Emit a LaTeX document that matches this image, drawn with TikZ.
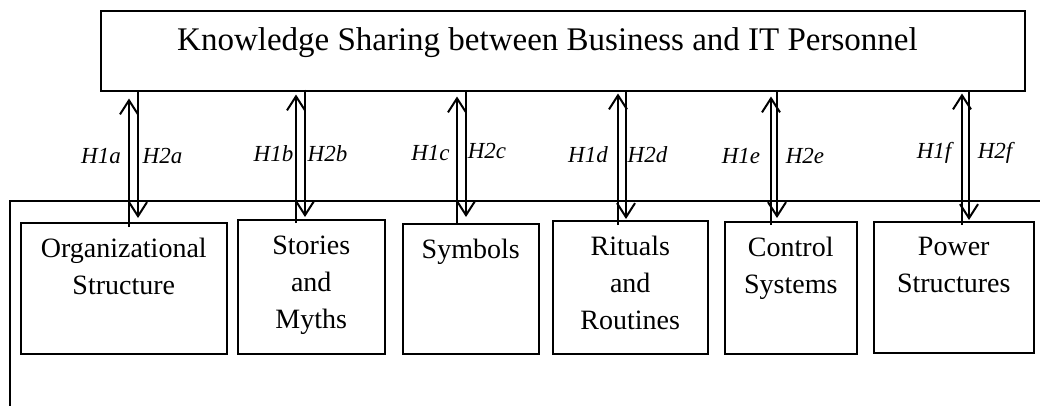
\documentclass[tikz,border=0pt]{standalone}
\usepackage{fontspec}
\setmainfont{Liberation Serif}
\usetikzlibrary{arrows.meta,calc}

\tikzset{
  frameline/.style={line width=1.3pt},
  titlebox/.style={draw,line width=1.5pt,rectangle,inner sep=0pt,anchor=north west},
  factorbox/.style={draw,line width=1.5pt,rectangle,inner sep=0pt,anchor=north west},
  factortext/.style={inner sep=0pt,anchor=north,align=center,font=\fontsize{28}{37}\selectfont},
  hyplabel/.style={inner sep=0pt,anchor=base,font=\fontsize{23}{26}\selectfont\itshape},
  hyp/.style={line width=2pt,-{Straight Barb[length=14pt,width=18pt]}}
}

\begin{document}
\begin{tikzpicture}[x=1pt,y=-1pt]
\useasboundingbox (0,0) rectangle (1040,405);

% outer frame of the culture factors (open to the right and bottom)
\draw[frameline] (1045,201) -- (10,201) -- (10,410);

% knowledge sharing box
\node[titlebox,minimum width=924pt,minimum height=80pt] (ks) at (100,10) {};
\node[inner sep=0pt,anchor=base west,font=\fontsize{33}{38}\selectfont] (kst) at (177,50)
  {Knowledge Sharing between Business and IT Personnel};

% cultural web factors
\node[factorbox,minimum width=206pt,minimum height=131pt] (os) at (20,222) {};
\node[factorbox,minimum width=147pt,minimum height=134pt] (sm) at (237,219) {};
\node[factorbox,minimum width=136pt,minimum height=130pt] (sy) at (402,223) {};
\node[factorbox,minimum width=155pt,minimum height=133pt] (rr) at (552,220) {};
\node[factorbox,minimum width=132pt,minimum height=132pt] (cs) at (724,221) {};
\node[factorbox,minimum width=160pt,minimum height=131pt] (ps) at (873,221) {};

\node[factortext] (ost) at ($(os.north)+(0,16)$) {Organizational\\Structure};
\node[factortext] (smt) at ($(sm.north)+(0,17)$) {Stories\\and\\Myths};
\node[factortext] (syt) at ($(sy.north)+(0,16)$) {Symbols};
\node[factortext] (rrt) at ($(rr.north)+(0,16)$) {Rituals\\and\\Routines};
\node[factortext] (cst) at ($(cs.north)+(0,16)$) {Control\\Systems};
\node[factortext] (pst) at ($(ps.north)+(0,16)$) {Power\\Structures};

% hypothesised links: H1 upwards, H2 downwards
\draw[hyp] ($(os.north -| 129,0)+(0,5)$) -- ($(ks.south -| 129,0)+(0,7)$);
\draw[hyp] ($(ks.south -| 138,0)+(0,-1)$) -- ($(os.north -| 138,0)+(0,-4)$);
\draw[hyp] ($(sm.north -| 296,0)+(0,4)$) -- ($(ks.south -| 296,0)+(0,3)$);
\draw[hyp] ($(ks.south -| 305,0)+(0,-2)$) -- ($(sm.north -| 305,0)+(0,-2)$);
\draw[hyp] ($(sy.north -| 457,0)+(0,1)$) -- ($(ks.south -| 457,0)+(0,5)$);
\draw[hyp] ($(ks.south -| 466,0)+(0,-1)$) -- ($(sy.north -| 466,0)+(0,-6)$);
\draw[hyp] ($(rr.north -| 618,0)+(0,5)$) -- ($(ks.south -| 618,0)+(0,2)$);
\draw[hyp] ($(ks.south -| 626,0)+(0,-1)$) -- ($(rr.north -| 626,0)+(0,-1)$);
\draw[hyp] ($(cs.north -| 771,0)+(0,4)$) -- ($(ks.south -| 771,0)+(0,5)$);
\draw[hyp] ($(ks.south -| 777,0)+(0,-1)$) -- ($(cs.north -| 777,0)+(0,-3)$);
\draw[hyp] ($(ps.north -| 962,0)+(0,4)$) -- ($(ks.south -| 962,0)+(0,2)$);
\draw[hyp] ($(ks.south -| 969,0)+(0,-1)$) -- ($(ps.north -| 969,0)+(0,-1)$);

% hypothesis labels
\node[hyplabel] (h1a) at (101,163) {H1a};
\node[hyplabel] (h2a) at (162.5,163) {H2a};
\node[hyplabel] (h1b) at (273.5,161) {H1b};
\node[hyplabel] (h2b) at (327.5,161) {H2b};
\node[hyplabel] (h1c) at (430.5,160) {H1c};
\node[hyplabel] (h2c) at (487,158) {H2c};
\node[hyplabel] (h1d) at (588,162) {H1d};
\node[hyplabel] (h2d) at (647.5,162) {H2d};
\node[hyplabel] (h1e) at (741,163) {H1e};
\node[hyplabel] (h2e) at (805,163) {H2e};
\node[hyplabel] (h1f) at (934,158) {H1f};
\node[hyplabel] (h2f) at (995,158) {H2f};
\end{tikzpicture}
\end{document}
